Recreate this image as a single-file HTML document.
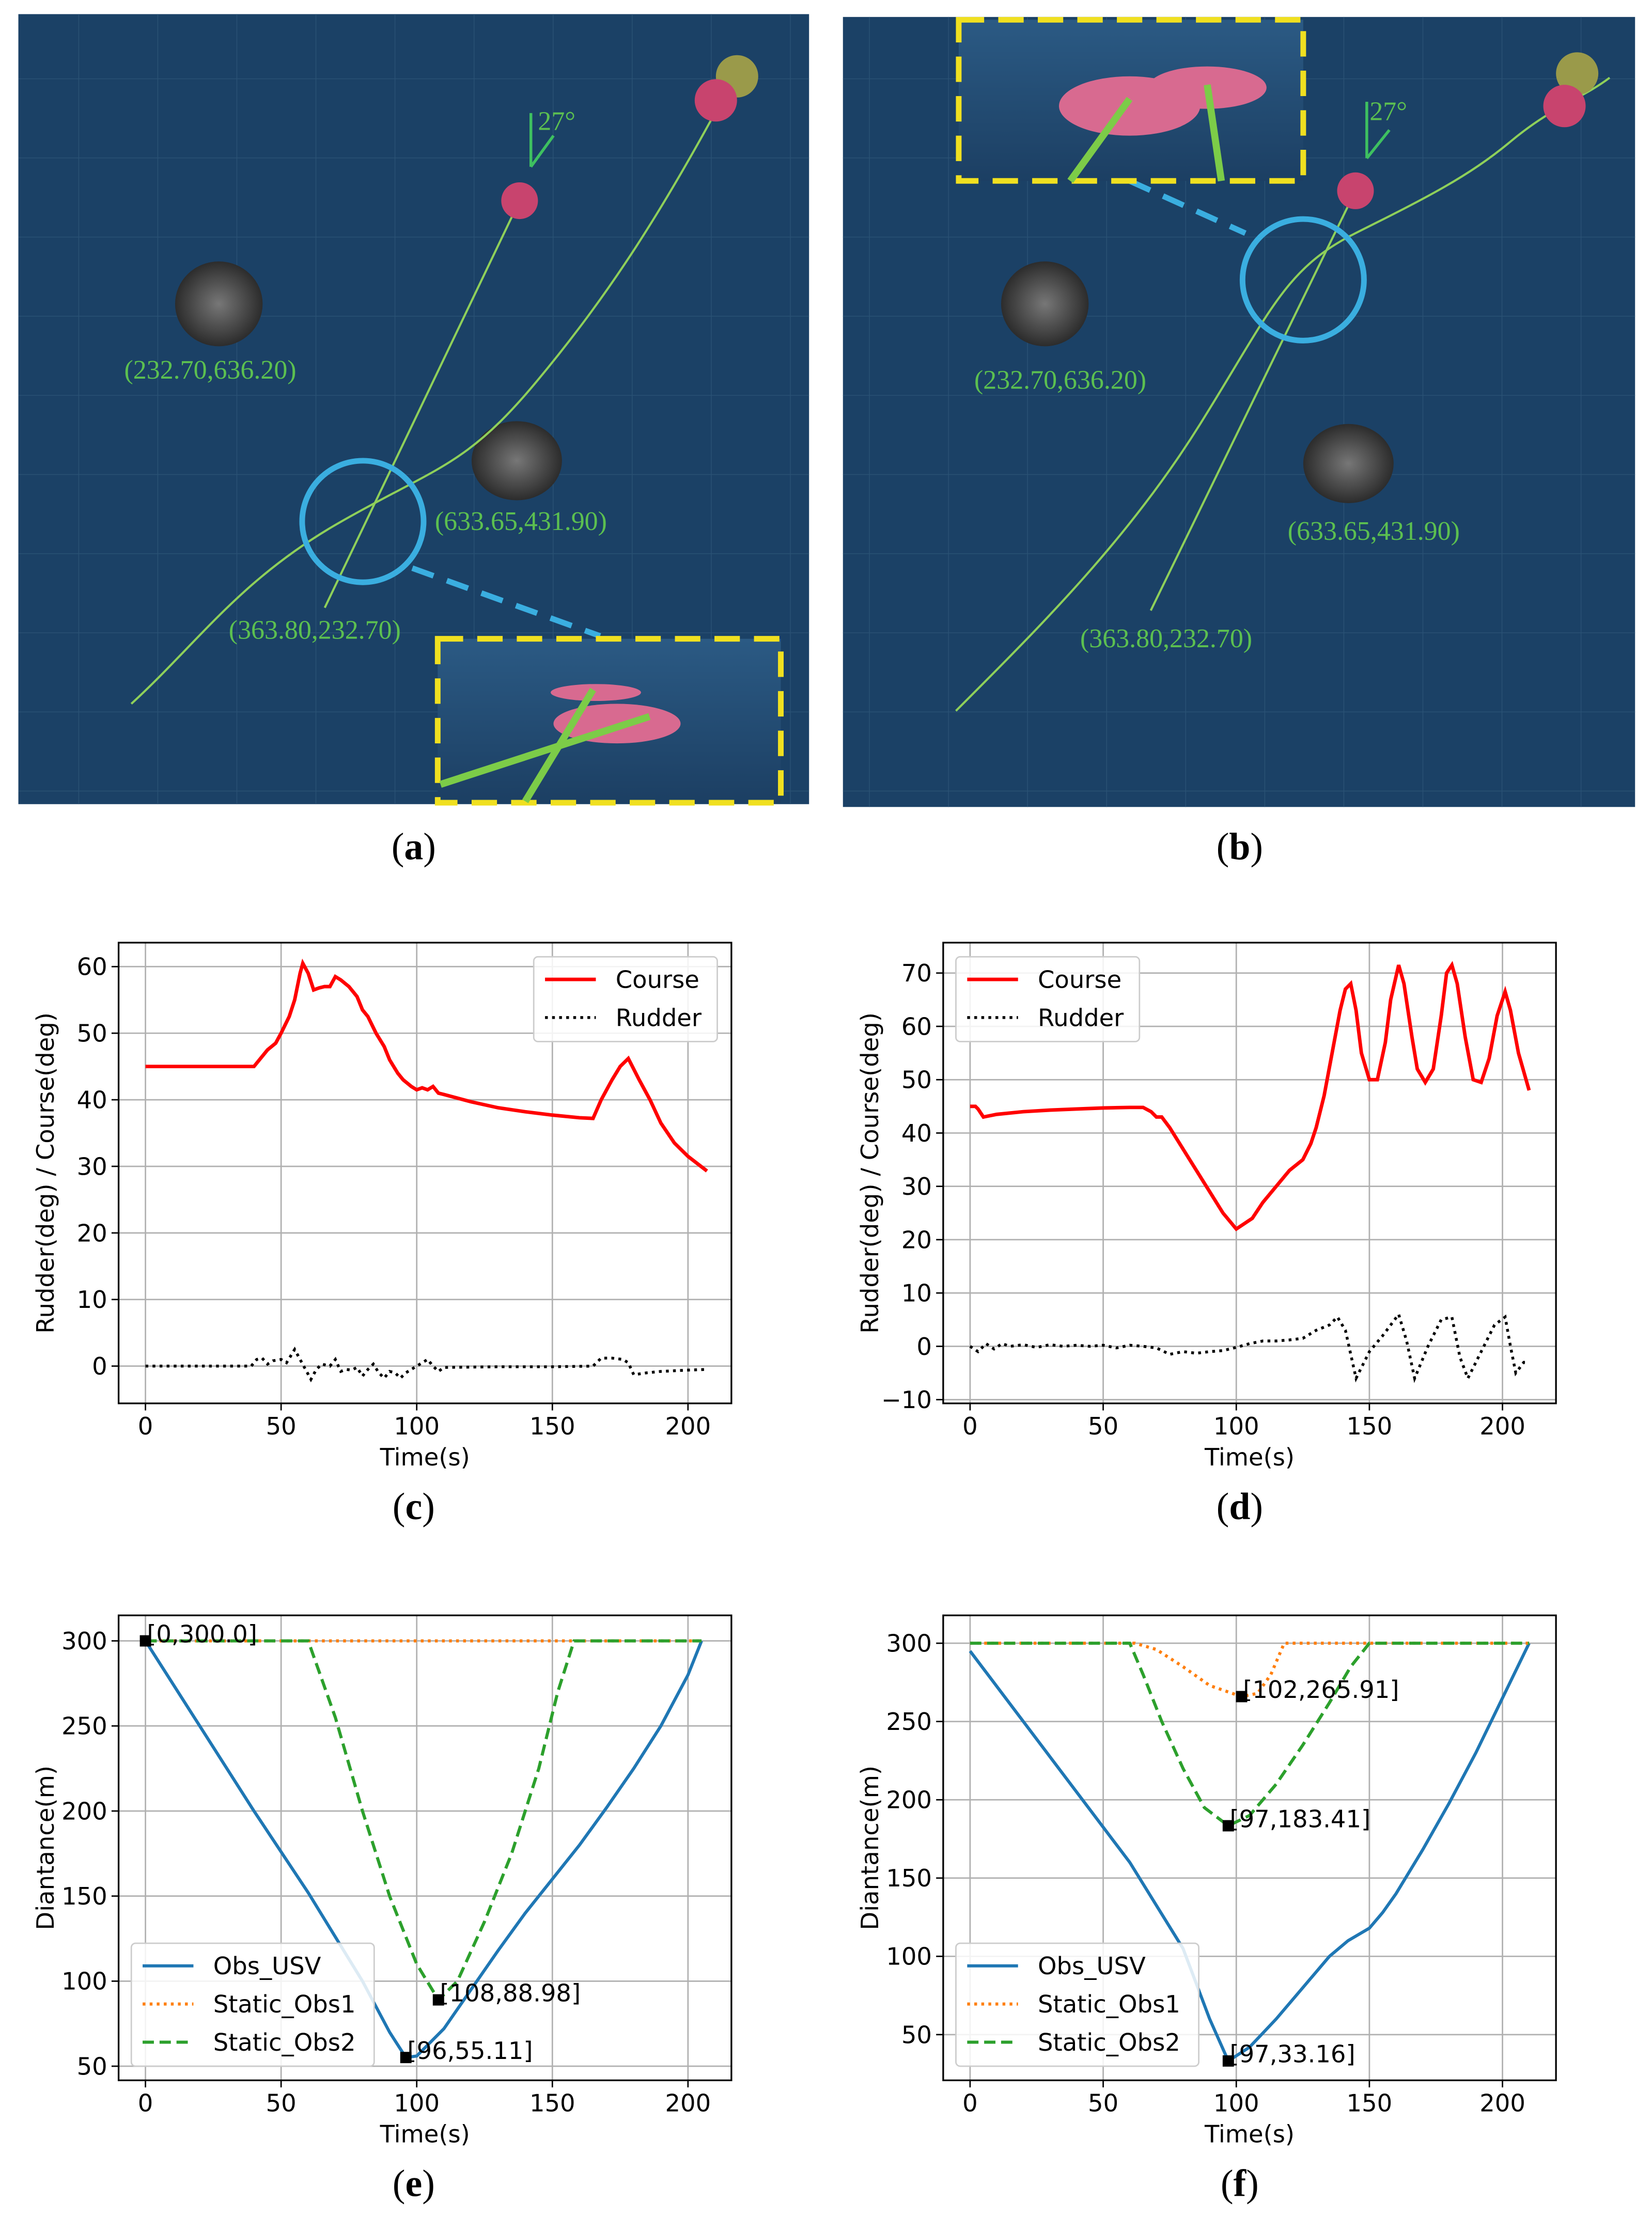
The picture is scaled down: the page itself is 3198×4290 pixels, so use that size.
<!DOCTYPE html>
<html><head><meta charset="utf-8"><style>
html,body{margin:0;padding:0;background:#fff}
svg{display:block}
text{font-family:"DejaVu Sans","Liberation Sans",sans-serif}
.tick{font-size:17px;fill:#000}
.cap{font-family:"Liberation Serif",serif;font-size:27px}
.lbl{font-family:"Liberation Serif",serif;font-size:19px;fill:#5cc050}
</style></head><body>
<svg id="fig" width="3198" height="4290" viewBox="0 0 1170 1568" preserveAspectRatio="none" xmlns="http://www.w3.org/2000/svg">
<defs>
<pattern id="grid" width="56" height="56" patternUnits="userSpaceOnUse"><path d="M56 0V56H0" fill="none" stroke="#2a5275" stroke-width="1"/></pattern>
<linearGradient id="sea" x1="0" y1="0" x2="0" y2="1"><stop offset="0" stop-color="#2b5a84"/><stop offset="1" stop-color="#1c3f63"/></linearGradient>
<radialGradient id="rock"><stop offset="0" stop-color="#777"/><stop offset="1" stop-color="#2c2c2c"/></radialGradient>
</defs>

<!-- panel a -->
<g>
<rect x="13" y="10" width="560" height="559" fill="#1b4166"/>
<rect x="13" y="10" width="560" height="559" fill="url(#grid)"/>
<ellipse cx="155" cy="215" rx="31" ry="30" fill="url(#rock)"/>
<ellipse cx="366" cy="326" rx="32" ry="28" fill="url(#rock)"/>
<path d="M93,498 C140,455 170,410 240,370 S330,330 380,270 S470,150 525,45" fill="none" stroke="#8fd05a" stroke-width="1.5"/>
<line x1="230" y1="430" x2="368" y2="142" stroke="#8fd05a" stroke-width="1.5"/>
<circle cx="368" cy="142" r="13" fill="#c8446e"/>
<circle cx="522" cy="54" r="15" fill="#9a9a4a"/>
<circle cx="507" cy="71" r="15" fill="#c8446e"/>
<path d="M376,118 V80 M376,118 L392,96" stroke="#3ec060" stroke-width="2" fill="none"/>
<text class="lbl" x="381" y="92">27°</text>
<circle cx="257" cy="369" r="43" fill="none" stroke="#3aaee0" stroke-width="4"/>
<line x1="292" y1="402" x2="425" y2="450" stroke="#3aaee0" stroke-width="4" stroke-dasharray="16,10"/>
<rect x="310" y="452" width="243" height="116" fill="url(#sea)" stroke="#f0e020" stroke-width="4" stroke-dasharray="18,10"/>
<ellipse cx="422" cy="490" rx="32" ry="6" fill="#d86a90"/>
<ellipse cx="437" cy="512" rx="45" ry="14" fill="#d86a90"/>
<line x1="312" y1="555" x2="460" y2="507" stroke="#7ccc48" stroke-width="5"/>
<line x1="372" y1="567" x2="420" y2="488" stroke="#7ccc48" stroke-width="5"/>
<text class="lbl" x="88" y="268">(232.70,636.20)</text>
<text class="lbl" x="308" y="375">(633.65,431.90)</text>
<text class="lbl" x="162" y="452">(363.80,232.70)</text>
</g>
<text class="cap" x="293" y="608" text-anchor="middle">(<tspan font-weight="bold">a</tspan>)</text>

<!-- panel b -->
<g>
<rect x="597" y="12" width="561" height="559" fill="#1b4166"/>
<rect x="597" y="12" width="561" height="559" fill="url(#grid)"/>
<ellipse cx="740" cy="215" rx="31" ry="30" fill="url(#rock)"/>
<ellipse cx="955" cy="328" rx="32" ry="28" fill="url(#rock)"/>
<path d="M677,503 C740,440 800,380 850,300 S910,190 960,165 S1040,125 1070,100 S1120,70 1140,55" fill="none" stroke="#8fd05a" stroke-width="1.5"/>
<line x1="815" y1="432" x2="960" y2="135" stroke="#8fd05a" stroke-width="1.5"/>
<circle cx="960" cy="135" r="13" fill="#c8446e"/>
<circle cx="1117" cy="52" r="15" fill="#9a9a4a"/>
<circle cx="1108" cy="75" r="15" fill="#c8446e"/>
<path d="M968,112 V72 M968,112 L984,92" stroke="#3ec060" stroke-width="2" fill="none"/>
<text class="lbl" x="970" y="85">27°</text>
<circle cx="923" cy="198" r="43" fill="none" stroke="#3aaee0" stroke-width="4"/>
<line x1="800" y1="128" x2="882" y2="165" stroke="#3aaee0" stroke-width="4" stroke-dasharray="16,10"/>
<rect x="679" y="14" width="244" height="114" fill="url(#sea)" stroke="#f0e020" stroke-width="4" stroke-dasharray="18,10"/>
<ellipse cx="800" cy="75" rx="50" ry="21" fill="#d86a90"/>
<ellipse cx="855" cy="62" rx="42" ry="15" fill="#d86a90"/>
<line x1="758" y1="128" x2="800" y2="70" stroke="#7ccc48" stroke-width="5"/>
<line x1="865" y1="128" x2="855" y2="60" stroke="#7ccc48" stroke-width="5"/>
<text class="lbl" x="690" y="275">(232.70,636.20)</text>
<text class="lbl" x="912" y="382">(633.65,431.90)</text>
<text class="lbl" x="765" y="458">(363.80,232.70)</text>
</g>
<text class="cap" x="878" y="608" text-anchor="middle">(<tspan font-weight="bold">b</tspan>)</text>

<text class="cap" x="293" y="1075" text-anchor="middle">(<tspan font-weight="bold">c</tspan>)</text>
<text class="cap" x="878" y="1075" text-anchor="middle">(<tspan font-weight="bold">d</tspan>)</text>
<text class="cap" x="293" y="1554" text-anchor="middle">(<tspan font-weight="bold">e</tspan>)</text>
<text class="cap" x="878" y="1554" text-anchor="middle">(<tspan font-weight="bold">f</tspan>)</text>
</svg>
<script>
// ---- chart c data ----
const cCourseT = [0,40,43,45,48,50,53,55,57,58,60,62,64,66,68,70,72,75,78,80,82,85,88,90,93,95,98,100,102,104,106,108,110,120,130,140,150,160,165,168,172,175,178,182,186,190,195,200,207];
const cCourseV = [45,45,46.5,47.5,48.5,50,52.5,55,59,60.5,59,56.5,56.8,57,57,58.5,58,57,55.5,53.5,52.5,50,48,46,44,43,42,41.5,41.8,41.5,42,41,40.8,39.7,38.8,38.2,37.7,37.3,37.2,40,43,45,46.2,43,40,36.5,33.5,31.5,29.3];
const cRudT = [0,10,20,30,39,41,43,45,47,50,52,55,57,59,61,63,65,68,70,72,74,76,78,80,82,84,86,88,90,92,94,96,98,100,102,104,106,108,110,130,150,165,168,172,176,178,180,185,190,200,207];
const cRudV = [0,0,0,0,0,1,1.2,0.3,0.8,1,0.5,2.5,1,-0.5,-2,-0.5,0.3,0,1,-0.8,-0.5,-0.6,-0.2,-1.5,-0.5,0.3,-1,-1.8,-0.8,-1,-1.8,-1,-0.5,0,0.5,1,0,-0.8,-0.2,-0.1,-0.1,0,1.2,1.2,1,0.5,-1.3,-1,-0.8,-0.6,-0.5];
const cXTicks = [0,50,100,150,200];
const cYTicks = [0,10,20,30,40,50,60];
// ---- chart d data ----
const dCourseT = [0,2,3,5,10,20,30,40,50,60,65,68,70,72,75,80,85,90,95,100,103,106,110,115,120,125,128,130,133,136,139,141,143,145,147,150,153,156,158,161,163,166,168,171,174,177,179,181,183,186,189,192,195,198,201,203,206,210];
const dCourseV = [45,45,44.5,43,43.5,44,44.3,44.5,44.7,44.8,44.8,44,43,43,41,37,33,29,25,22,23,24,27,30,33,35,38,41,47,55,63,67,68,63,55,50,50,57,65,71.5,68,58,52,49.5,52,62,70,71.5,68,58,50,49.5,54,62,66.5,63,55,48];
const dRudT = [0,3,6,9,12,15,20,25,30,35,40,45,50,55,60,65,70,75,80,85,90,95,100,105,110,115,120,125,130,135,138,141,145,150,155,161,164,167,172,177,181,184,187,192,197,201,203,205,208,210];
const dRudV = [0,-1,0.5,-0.5,0.5,0,0.3,-0.2,0.3,0,0.2,0,0.2,-0.3,0.2,0,-0.3,-1.5,-1,-1.3,-1,-0.8,-0.2,0.5,1,1,1.2,1.5,3,4,5.5,3,-6,-1,2,6,1,-6,0,5,5.5,-2,-6,-1,4,5.5,0,-5,-3,-3];
const dXTicks = [0,50,100,150,200];
const dYTicks = [-10,0,10,20,30,40,50,60,70];
// ---- chart e data ----
const eUsvT = [0,20,40,60,80,90,96,100,110,120,130,140,150,160,170,180,190,200,205];
const eUsvV = [300,250,200,152,100,70,55.11,56,72,95,118,140,160,180,202,225,250,280,300];
const eObs1T = [0,205];
const eObs1V = [300,300];
const eObs2T = [0,60,70,80,90,100,108,115,125,135,145,152,158,205];
const eObs2V = [300,300,255,200,150,110,88.98,100,135,175,225,270,300,300];
const eMarkT = [0,108,96];
const eMarkV = [300,88.98,55.11];
const eMarkL = ["[0,300.0]","[108,88.98]","[96,55.11]"];
const eXTicks = [0,50,100,150,200];
const eYTicks = [50,100,150,200,250,300];
// ---- chart f data ----
const fUsvT = [0,20,40,60,80,90,97,105,115,125,135,142,150,155,160,170,180,190,200,210];
const fUsvV = [295,250,205,160,105,60,33.16,42,60,80,100,110,118,128,140,168,198,230,265,300];
const fObs1T = [0,62,70,80,90,102,108,113,118,210];
const fObs1V = [300,300,296,285,273,265.91,268,280,300,300];
const fObs2T = [0,60,65,72,80,88,97,105,115,125,135,143,150,210];
const fObs2V = [300,300,280,250,220,195,183.41,190,210,235,262,285,300,300];
const fMarkT = [102,97,97];
const fMarkV = [265.91,183.41,33.16];
const fMarkL = ["[102,265.91]","[97,183.41]","[97,33.16]"];
const fXTicks = [0,50,100,150,200];
const fYTicks = [50,100,150,200,250,300];

const NS = "http://www.w3.org/2000/svg";
const svg = document.getElementById('fig');
function mk(tag, attrs, parent){
  const e = document.createElementNS(NS, tag);
  for (const k in attrs) e.setAttribute(k, attrs[k]);
  (parent||svg).appendChild(e);
  return e;
}
function axes(name, box, xd, yd, xt, yt, ylab){
  const g = mk('g', {});
  
  
  const sx = v => box.x + (v - xd[0]) / (xd[1] - xd[0]) * box.w;
  const sy = v => box.y + box.h - (v - yd[0]) / (yd[1] - yd[0]) * box.h;
  xt.forEach(t => {
    const l = mk('line', {x1:sx(t), x2:sx(t), y1:box.y, y2:box.y+box.h, stroke:'#b0b0b0', 'stroke-width':1}, g);
    
    
    mk('line', {x1:sx(t), x2:sx(t), y1:box.y+box.h, y2:box.y+box.h+5, stroke:'#000', 'stroke-width':1}, g);
    const tx = mk('text', {x:sx(t), y:box.y+box.h+22, 'text-anchor':'middle', class:'tick'}, g);
    tx.textContent = t;
    
    
  });
  yt.forEach(t => {
    const l = mk('line', {x1:box.x, x2:box.x+box.w, y1:sy(t), y2:sy(t), stroke:'#b0b0b0', 'stroke-width':1}, g);
    
    
    mk('line', {x1:box.x-5, x2:box.x, y1:sy(t), y2:sy(t), stroke:'#000', 'stroke-width':1}, g);
    const tx = mk('text', {x:box.x-8, y:sy(t)+6, 'text-anchor':'end', class:'tick'}, g);
    tx.textContent = t < 0 ? '\u2212' + Math.abs(t) : t;
    
    
  });
  const frame = mk('rect', {x:box.x, y:box.y, width:box.w, height:box.h, fill:'none', stroke:'#000', 'stroke-width':1.2}, g);
  
  
  const xl = mk('text', {x:box.x+box.w/2, y:box.y+box.h+44, 'text-anchor':'middle', class:'tick'}, g);
  xl.textContent = 'Time(s)';
  
  
  const cx = box.x - 46, cy = box.y + box.h/2;
  const yl = mk('text', {x:cx, y:cy, 'text-anchor':'middle', class:'tick', transform:`rotate(-90 ${cx} ${cy})`, 'xml:space':'preserve'}, g);
  yl.textContent = ylab;
  
  
  return {g, sx, sy};
}
function series(ax, T, V, style, name){
  const d = T.map((t,i)=>(i?'L':'M')+ax.sx(t).toFixed(2)+','+ax.sy(V[i]).toFixed(2)).join(' ');
  const p = mk('path', Object.assign({d, fill:'none'}, style), ax.g);
  
  
}
function legend(ax, x, y, w, entries){
  const g = mk('g', {}, ax.g);
  
  
  mk('rect', {x, y, width:w, height:entries.length*27+6, rx:3, fill:'#fff', 'fill-opacity':0.85, stroke:'#ccc'}, g);
  entries.forEach((e,i) => {
    const yy = y + 16 + i*27;
    mk('line', Object.assign({x1:x+8, x2:x+44, y1:yy, y2:yy}, e.style), g);
    const t = mk('text', {x:x+58, y:yy+6, class:'tick'}, g);
    t.textContent = e.label;
    
    
  });
}
function markers(ax, T, V, L){
  T.forEach((t,i) => {
    const r = mk('rect', {x:ax.sx(t)-4, y:ax.sy(V[i])-4, width:8, height:8, fill:'#000'}, ax.g);
    
    
    const tx = mk('text', {x:ax.sx(t)+1, y:ax.sy(V[i])+1, class:'tick'}, ax.g);
    tx.textContent = L[i];
    
    
  });
}
const red = {stroke:'#ff0000','stroke-width':2.5};
const dot = {stroke:'#000','stroke-width':2,'stroke-dasharray':'2,3'};
const blue = {stroke:'#1f77b4','stroke-width':2.2};
const orange = {stroke:'#ff7f0e','stroke-width':2.2,'stroke-dasharray':'2,3'};
const green = {stroke:'#2ca02c','stroke-width':2.2,'stroke-dasharray':'8,4'};
const ylab1 = 'Rudder(deg)  /  Course(deg)';

const c = axes('chart-c-course-rudder', {x:84,y:667,w:434,h:326}, [-9.9,216], [-5.6,63.6], cXTicks, cYTicks, ylab1);
series(c, cCourseT, cCourseV, red, 'course-line');
series(c, cRudT, cRudV, dot, 'rudder-line');
legend(c, 378, 677, 130, [{label:'Course',style:red},{label:'Rudder',style:dot}]);

const d = axes('chart-d-course-rudder', {x:668,y:667,w:434,h:326}, [-10.1,220.1], [-10.7,75.7], dXTicks, dYTicks, ylab1);
series(d, dCourseT, dCourseV, red, 'course-line');
series(d, dRudT, dRudV, dot, 'rudder-line');
legend(d, 677, 677, 130, [{label:'Course',style:red},{label:'Rudder',style:dot}]);

const ylab2 = 'Diantance(m)';
const e = axes('chart-e-distance', {x:84,y:1143,w:434,h:329}, [-9.9,216], [41.7,315], eXTicks, eYTicks, ylab2);
series(e, eUsvT, eUsvV, blue, 'obs-usv-line');
series(e, eObs1T, eObs1V, orange, 'static-obs1-line');
series(e, eObs2T, eObs2V, green, 'static-obs2-line');
markers(e, eMarkT, eMarkV, eMarkL);
legend(e, 93, 1375, 172, [{label:'Obs_USV',style:blue},{label:'Static_Obs1',style:orange},{label:'Static_Obs2',style:green}]);

const f = axes('chart-f-distance', {x:668,y:1143,w:434,h:329}, [-10.1,220.1], [20.8,317.8], fXTicks, fYTicks, ylab2);
series(f, fUsvT, fUsvV, blue, 'obs-usv-line');
series(f, fObs1T, fObs1V, orange, 'static-obs1-line');
series(f, fObs2T, fObs2V, green, 'static-obs2-line');
markers(f, fMarkT, fMarkV, fMarkL);
legend(f, 677, 1375, 172, [{label:'Obs_USV',style:blue},{label:'Static_Obs1',style:orange},{label:'Static_Obs2',style:green}]);
</script>
</body></html>
